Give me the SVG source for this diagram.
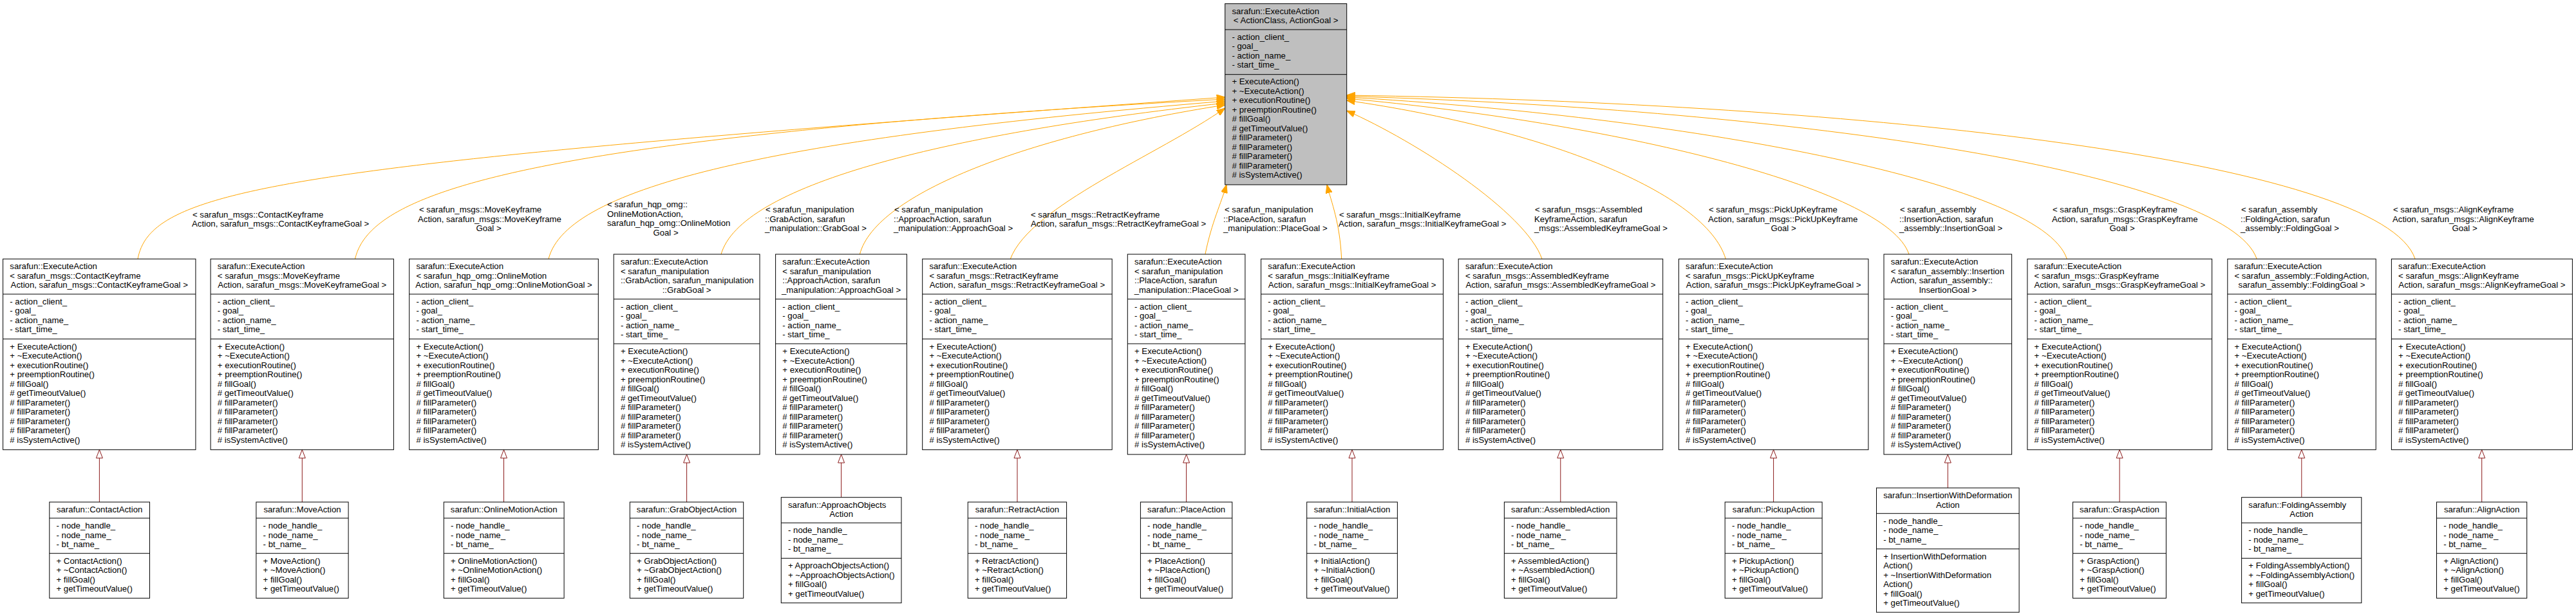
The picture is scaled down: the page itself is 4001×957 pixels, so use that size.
<svg xmlns="http://www.w3.org/2000/svg" width="4001" height="957" viewBox="0 0 4001 957">
<style>
text{font-family:"Liberation Sans",Arial,Helvetica,sans-serif;font-size:13.2px;fill:#000}
.m{text-anchor:middle}
.box{fill:#fff;stroke:#000;stroke-width:1}
.gray{fill:#bfbfbf}
.sep{stroke:#000;stroke-width:1}
.tpl{fill:none;stroke:#ffa500;stroke-width:1}
.inh{fill:none;stroke:#8b1a1a;stroke-width:1}
</style>
<defs>
<marker id="ao" viewBox="0 0 13 10" refX="13" refY="5" markerWidth="13" markerHeight="10" markerUnits="userSpaceOnUse" orient="auto"><path d="M0,0 L13,5 L0,10 z" fill="#ffa500" stroke="#ffa500" stroke-width="1"/></marker>
<marker id="ah" viewBox="-1 -1 15 12" refX="0" refY="5" markerWidth="15" markerHeight="12" markerUnits="userSpaceOnUse" orient="auto"><path d="M0,0 L13,5 L0,10 z" fill="#fff" stroke="#8b1a1a" stroke-width="1"/></marker>
</defs>
<rect width="4001" height="957" fill="#fff"/>

<g id="edges">
<path class="tpl" marker-end="url(#ao)" d="M214,402.3 C235,290 450,255 1902.7,151"/>
<path class="tpl" marker-end="url(#ao)" d="M551.5,402.3 C575,300 800,215 1902.7,154"/>
<path class="tpl" marker-end="url(#ao)" d="M852,402.3 C880,290 1200,215 1902.7,157"/>
<path class="tpl" marker-end="url(#ao)" d="M1120,395 C1150,290 1450,210 1902.7,160"/>
<path class="tpl" marker-end="url(#ao)" d="M1335.4,395 C1360,300 1600,210 1902.7,163"/>
<path class="tpl" marker-end="url(#ao)" d="M1569.3,402.3 C1600,320 1800,240 1902.7,168"/>
<path class="tpl" marker-end="url(#ao)" d="M1871.9,395 C1882,345 1897,315 1905,287"/>
<path class="tpl" marker-end="url(#ao)" d="M2083.7,402.3 C2081,345 2068,315 2061,287"/>
<path class="tpl" marker-end="url(#ao)" d="M2395,402.3 C2370,330 2200,220 2091.7,172"/>
<path class="tpl" marker-end="url(#ao)" d="M2680.3,402.3 C2650,300 2400,200 2091.7,156"/>
<path class="tpl" marker-end="url(#ao)" d="M2965,395 C2930,290 2500,190 2091.7,153"/>
<path class="tpl" marker-end="url(#ao)" d="M3210.3,402.3 C3170,280 2600,180 2091.7,151"/>
<path class="tpl" marker-end="url(#ao)" d="M3505.2,402.3 C3460,270 2800,170 2091.7,149.5"/>
<path class="tpl" marker-end="url(#ao)" d="M3751.1,402.3 C3700,250 2900,160 2091.7,148"/>

<text x="299" y="337.5">&lt; sarafun_msgs::ContactKeyframe</text>
<text x="298" y="352">Action, sarafun_msgs::ContactKeyframeGoal &gt;</text>
<text x="651" y="330">&lt; sarafun_msgs::MoveKeyframe</text>
<text x="649" y="344.5">Action, sarafun_msgs::MoveKeyframe</text>
<text x="759" y="359" class="m">Goal &gt;</text>
<text x="943" y="322">&lt; sarafun_hqp_omg::</text>
<text x="943" y="336.5">OnlineMotionAction,</text>
<text x="943" y="351">sarafun_hqp_omg::OnlineMotion</text>
<text x="1034" y="365.5" class="m">Goal &gt;</text>
<text x="1189" y="330">&lt; sarafun_manipulation</text>
<text x="1188" y="344.5">::GrabAction, sarafun</text>
<text x="1188" y="359">_manipulation::GrabGoal &gt;</text>
<text x="1389" y="330">&lt; sarafun_manipulation</text>
<text x="1388" y="344.5">::ApproachAction, sarafun</text>
<text x="1388" y="359">_manipulation::ApproachGoal &gt;</text>
<text x="1601" y="337.5">&lt; sarafun_msgs::RetractKeyframe</text>
<text x="1601" y="352">Action, sarafun_msgs::RetractKeyframeGoal &gt;</text>
<text x="1902" y="330">&lt; sarafun_manipulation</text>
<text x="1900" y="344.5">::PlaceAction, sarafun</text>
<text x="1900" y="359">_manipulation::PlaceGoal &gt;</text>
<text x="2080" y="337.5">&lt; sarafun_msgs::InitialKeyframe</text>
<text x="2079" y="352">Action, sarafun_msgs::InitialKeyframeGoal &gt;</text>
<text x="2384" y="330">&lt; sarafun_msgs::Assembled</text>
<text x="2383" y="344.5">KeyframeAction, sarafun</text>
<text x="2383" y="359">_msgs::AssembledKeyframeGoal &gt;</text>
<text x="2654" y="330">&lt; sarafun_msgs::PickUpKeyframe</text>
<text x="2653" y="344.5">Action, sarafun_msgs::PickUpKeyframe</text>
<text x="2770" y="359" class="m">Goal &gt;</text>
<text x="2951" y="330">&lt; sarafun_assembly</text>
<text x="2950" y="344.5">::InsertionAction, sarafun</text>
<text x="2950" y="359">_assembly::InsertionGoal &gt;</text>
<text x="3188" y="330">&lt; sarafun_msgs::GraspKeyframe</text>
<text x="3187" y="344.5">Action, sarafun_msgs::GraspKeyframe</text>
<text x="3296" y="359" class="m">Goal &gt;</text>
<text x="3481" y="330">&lt; sarafun_assembly</text>
<text x="3480" y="344.5">::FoldingAction, sarafun</text>
<text x="3480" y="359">_assembly::FoldingGoal &gt;</text>
<text x="3717" y="330">&lt; sarafun_msgs::AlignKeyframe</text>
<text x="3716" y="344.5">Action, sarafun_msgs::AlignKeyframe</text>
<text x="3828" y="359" class="m">Goal &gt;</text>

<path class="inh" marker-end="url(#ah)" d="M154.4,780 V711.7"/>
<path class="inh" marker-end="url(#ah)" d="M469.3,780 V711.7"/>
<path class="inh" marker-end="url(#ah)" d="M782.5,780 V711.7"/>
<path class="inh" marker-end="url(#ah)" d="M1066.6,780 V719"/>
<path class="inh" marker-end="url(#ah)" d="M1306.6,772.7 V719"/>
<path class="inh" marker-end="url(#ah)" d="M1580,780 V711.7"/>
<path class="inh" marker-end="url(#ah)" d="M1842.6,780 V719"/>
<path class="inh" marker-end="url(#ah)" d="M2100,780 V711.7"/>
<path class="inh" marker-end="url(#ah)" d="M2423.8,780 V711.7"/>
<path class="inh" marker-end="url(#ah)" d="M2754.6,780 V711.7"/>
<path class="inh" marker-end="url(#ah)" d="M3025.3,758 V719"/>
<path class="inh" marker-end="url(#ah)" d="M3292.1,780 V711.7"/>
<path class="inh" marker-end="url(#ah)" d="M3574.8,772.7 V711.7"/>
<path class="inh" marker-end="url(#ah)" d="M3854.7,780 V711.7"/>
</g>

<g id="ExecuteAction_base" transform="translate(1902.7,5.7)">
<rect class="box gray" width="189" height="281.3"/>
<line class="sep" x1="0" y1="40.3" x2="189" y2="40.3"/><line class="sep" x1="0" y1="110" x2="189" y2="110"/>
<text x="10.7" y="16">sarafun::ExecuteAction</text>
<text x="94.5" y="30.5" class="m">&lt; ActionClass, ActionGoal &gt;</text>
<text x="10.7" y="56.3">- action_client_</text><text x="10.7" y="70.8">- goal_</text><text x="10.7" y="85.3">- action_name_</text><text x="10.7" y="99.8">- start_time_</text>
<text x="10.7" y="125.8">+ ExecuteAction()</text><text x="10.7" y="140.3">+ ~ExecuteAction()</text><text x="10.7" y="154.8">+ executionRoutine()</text><text x="10.7" y="169.3">+ preemptionRoutine()</text><text x="10.7" y="183.8"># fillGoal()</text><text x="10.7" y="198.3"># getTimeoutValue()</text><text x="10.7" y="212.8"># fillParameter()</text><text x="10.7" y="227.3"># fillParameter()</text><text x="10.7" y="241.8"># fillParameter()</text><text x="10.7" y="256.3"># fillParameter()</text><text x="10.7" y="270.8"># isSystemActive()</text>
</g>

<g id="EA_ContactKeyframe" transform="translate(4.6,402.3)">
<rect class="box" width="299.3" height="296.4"/>
<line class="sep" x1="0" y1="54.7" x2="299.3" y2="54.7"/><line class="sep" x1="0" y1="124.4" x2="299.3" y2="124.4"/>
<text x="10.7" y="16">sarafun::ExecuteAction</text><text x="10.7" y="30.5">&lt; sarafun_msgs::ContactKeyframe</text><text x="149.65" y="45" class="m">Action, sarafun_msgs::ContactKeyframeGoal &gt;</text>
<text x="10.7" y="70.7">- action_client_</text><text x="10.7" y="85.2">- goal_</text><text x="10.7" y="99.7">- action_name_</text><text x="10.7" y="114.2">- start_time_</text>
<text x="10.7" y="140.4">+ ExecuteAction()</text><text x="10.7" y="154.9">+ ~ExecuteAction()</text><text x="10.7" y="169.4">+ executionRoutine()</text><text x="10.7" y="183.9">+ preemptionRoutine()</text><text x="10.7" y="198.4"># fillGoal()</text><text x="10.7" y="212.9"># getTimeoutValue()</text><text x="10.7" y="227.4"># fillParameter()</text><text x="10.7" y="241.9"># fillParameter()</text><text x="10.7" y="256.4"># fillParameter()</text><text x="10.7" y="270.9"># fillParameter()</text><text x="10.7" y="285.4"># isSystemActive()</text>
</g>

<g id="EA_MoveKeyframe" transform="translate(327.1,402.3)">
<rect class="box" width="284.3" height="296.4"/>
<line class="sep" x1="0" y1="54.7" x2="284.3" y2="54.7"/><line class="sep" x1="0" y1="124.4" x2="284.3" y2="124.4"/>
<text x="10.7" y="16">sarafun::ExecuteAction</text><text x="10.7" y="30.5">&lt; sarafun_msgs::MoveKeyframe</text><text x="142.15" y="45" class="m">Action, sarafun_msgs::MoveKeyframeGoal &gt;</text>
<text x="10.7" y="70.7">- action_client_</text><text x="10.7" y="85.2">- goal_</text><text x="10.7" y="99.7">- action_name_</text><text x="10.7" y="114.2">- start_time_</text>
<text x="10.7" y="140.4">+ ExecuteAction()</text><text x="10.7" y="154.9">+ ~ExecuteAction()</text><text x="10.7" y="169.4">+ executionRoutine()</text><text x="10.7" y="183.9">+ preemptionRoutine()</text><text x="10.7" y="198.4"># fillGoal()</text><text x="10.7" y="212.9"># getTimeoutValue()</text><text x="10.7" y="227.4"># fillParameter()</text><text x="10.7" y="241.9"># fillParameter()</text><text x="10.7" y="256.4"># fillParameter()</text><text x="10.7" y="270.9"># fillParameter()</text><text x="10.7" y="285.4"># isSystemActive()</text>
</g>

<g id="EA_OnlineMotion" transform="translate(635.7,402.3)">
<rect class="box" width="293.6" height="296.4"/>
<line class="sep" x1="0" y1="54.7" x2="293.6" y2="54.7"/><line class="sep" x1="0" y1="124.4" x2="293.6" y2="124.4"/>
<text x="10.7" y="16">sarafun::ExecuteAction</text><text x="10.7" y="30.5">&lt; sarafun_hqp_omg::OnlineMotion</text><text x="146.8" y="45" class="m">Action, sarafun_hqp_omg::OnlineMotionGoal &gt;</text>
<text x="10.7" y="70.7">- action_client_</text><text x="10.7" y="85.2">- goal_</text><text x="10.7" y="99.7">- action_name_</text><text x="10.7" y="114.2">- start_time_</text>
<text x="10.7" y="140.4">+ ExecuteAction()</text><text x="10.7" y="154.9">+ ~ExecuteAction()</text><text x="10.7" y="169.4">+ executionRoutine()</text><text x="10.7" y="183.9">+ preemptionRoutine()</text><text x="10.7" y="198.4"># fillGoal()</text><text x="10.7" y="212.9"># getTimeoutValue()</text><text x="10.7" y="227.4"># fillParameter()</text><text x="10.7" y="241.9"># fillParameter()</text><text x="10.7" y="256.4"># fillParameter()</text><text x="10.7" y="270.9"># fillParameter()</text><text x="10.7" y="285.4"># isSystemActive()</text>
</g>

<g id="EA_Grab" transform="translate(953.2,395)">
<rect class="box" width="226.8" height="311"/>
<line class="sep" x1="0" y1="69.7" x2="226.8" y2="69.7"/><line class="sep" x1="0" y1="139" x2="226.8" y2="139"/>
<text x="10.7" y="16">sarafun::ExecuteAction</text><text x="10.7" y="30.5">&lt; sarafun_manipulation</text><text x="10.7" y="45">::GrabAction, sarafun_manipulation</text><text x="113.4" y="59.5" class="m">::GrabGoal &gt;</text>
<text x="10.7" y="85.7">- action_client_</text><text x="10.7" y="100.2">- goal_</text><text x="10.7" y="114.7">- action_name_</text><text x="10.7" y="129.2">- start_time_</text>
<text x="10.7" y="155">+ ExecuteAction()</text><text x="10.7" y="169.5">+ ~ExecuteAction()</text><text x="10.7" y="184">+ executionRoutine()</text><text x="10.7" y="198.5">+ preemptionRoutine()</text><text x="10.7" y="213"># fillGoal()</text><text x="10.7" y="227.5"># getTimeoutValue()</text><text x="10.7" y="242"># fillParameter()</text><text x="10.7" y="256.5"># fillParameter()</text><text x="10.7" y="271"># fillParameter()</text><text x="10.7" y="285.5"># fillParameter()</text><text x="10.7" y="300"># isSystemActive()</text>
</g>

<g id="EA_Approach" transform="translate(1204.6,395)">
<rect class="box" width="203.9" height="311"/>
<line class="sep" x1="0" y1="69.7" x2="203.9" y2="69.7"/><line class="sep" x1="0" y1="139" x2="203.9" y2="139"/>
<text x="10.7" y="16">sarafun::ExecuteAction</text><text x="10.7" y="30.5">&lt; sarafun_manipulation</text><text x="10.7" y="45">::ApproachAction, sarafun</text><text x="101.95" y="59.5" class="m">_manipulation::ApproachGoal &gt;</text>
<text x="10.7" y="85.7">- action_client_</text><text x="10.7" y="100.2">- goal_</text><text x="10.7" y="114.7">- action_name_</text><text x="10.7" y="129.2">- start_time_</text>
<text x="10.7" y="155">+ ExecuteAction()</text><text x="10.7" y="169.5">+ ~ExecuteAction()</text><text x="10.7" y="184">+ executionRoutine()</text><text x="10.7" y="198.5">+ preemptionRoutine()</text><text x="10.7" y="213"># fillGoal()</text><text x="10.7" y="227.5"># getTimeoutValue()</text><text x="10.7" y="242"># fillParameter()</text><text x="10.7" y="256.5"># fillParameter()</text><text x="10.7" y="271"># fillParameter()</text><text x="10.7" y="285.5"># fillParameter()</text><text x="10.7" y="300"># isSystemActive()</text>
</g>

<g id="EA_RetractKeyframe" transform="translate(1432.7,402.3)">
<rect class="box" width="294.5" height="296.4"/>
<line class="sep" x1="0" y1="54.7" x2="294.5" y2="54.7"/><line class="sep" x1="0" y1="124.4" x2="294.5" y2="124.4"/>
<text x="10.7" y="16">sarafun::ExecuteAction</text><text x="10.7" y="30.5">&lt; sarafun_msgs::RetractKeyframe</text><text x="147.25" y="45" class="m">Action, sarafun_msgs::RetractKeyframeGoal &gt;</text>
<text x="10.7" y="70.7">- action_client_</text><text x="10.7" y="85.2">- goal_</text><text x="10.7" y="99.7">- action_name_</text><text x="10.7" y="114.2">- start_time_</text>
<text x="10.7" y="140.4">+ ExecuteAction()</text><text x="10.7" y="154.9">+ ~ExecuteAction()</text><text x="10.7" y="169.4">+ executionRoutine()</text><text x="10.7" y="183.9">+ preemptionRoutine()</text><text x="10.7" y="198.4"># fillGoal()</text><text x="10.7" y="212.9"># getTimeoutValue()</text><text x="10.7" y="227.4"># fillParameter()</text><text x="10.7" y="241.9"># fillParameter()</text><text x="10.7" y="256.4"># fillParameter()</text><text x="10.7" y="270.9"># fillParameter()</text><text x="10.7" y="285.4"># isSystemActive()</text>
</g>

<g id="EA_Place" transform="translate(1751.3,395)">
<rect class="box" width="182.6" height="311"/>
<line class="sep" x1="0" y1="69.7" x2="182.6" y2="69.7"/><line class="sep" x1="0" y1="139" x2="182.6" y2="139"/>
<text x="10.7" y="16">sarafun::ExecuteAction</text><text x="10.7" y="30.5">&lt; sarafun_manipulation</text><text x="10.7" y="45">::PlaceAction, sarafun</text><text x="91.3" y="59.5" class="m">_manipulation::PlaceGoal &gt;</text>
<text x="10.7" y="85.7">- action_client_</text><text x="10.7" y="100.2">- goal_</text><text x="10.7" y="114.7">- action_name_</text><text x="10.7" y="129.2">- start_time_</text>
<text x="10.7" y="155">+ ExecuteAction()</text><text x="10.7" y="169.5">+ ~ExecuteAction()</text><text x="10.7" y="184">+ executionRoutine()</text><text x="10.7" y="198.5">+ preemptionRoutine()</text><text x="10.7" y="213"># fillGoal()</text><text x="10.7" y="227.5"># getTimeoutValue()</text><text x="10.7" y="242"># fillParameter()</text><text x="10.7" y="256.5"># fillParameter()</text><text x="10.7" y="271"># fillParameter()</text><text x="10.7" y="285.5"># fillParameter()</text><text x="10.7" y="300"># isSystemActive()</text>
</g>

<g id="EA_InitialKeyframe" transform="translate(1958.6,402.3)">
<rect class="box" width="283" height="296.4"/>
<line class="sep" x1="0" y1="54.7" x2="283" y2="54.7"/><line class="sep" x1="0" y1="124.4" x2="283" y2="124.4"/>
<text x="10.7" y="16">sarafun::ExecuteAction</text><text x="10.7" y="30.5">&lt; sarafun_msgs::InitialKeyframe</text><text x="141.5" y="45" class="m">Action, sarafun_msgs::InitialKeyframeGoal &gt;</text>
<text x="10.7" y="70.7">- action_client_</text><text x="10.7" y="85.2">- goal_</text><text x="10.7" y="99.7">- action_name_</text><text x="10.7" y="114.2">- start_time_</text>
<text x="10.7" y="140.4">+ ExecuteAction()</text><text x="10.7" y="154.9">+ ~ExecuteAction()</text><text x="10.7" y="169.4">+ executionRoutine()</text><text x="10.7" y="183.9">+ preemptionRoutine()</text><text x="10.7" y="198.4"># fillGoal()</text><text x="10.7" y="212.9"># getTimeoutValue()</text><text x="10.7" y="227.4"># fillParameter()</text><text x="10.7" y="241.9"># fillParameter()</text><text x="10.7" y="256.4"># fillParameter()</text><text x="10.7" y="270.9"># fillParameter()</text><text x="10.7" y="285.4"># isSystemActive()</text>
</g>

<g id="EA_AssembledKeyframe" transform="translate(2265.2,402.3)">
<rect class="box" width="317.5" height="296.4"/>
<line class="sep" x1="0" y1="54.7" x2="317.5" y2="54.7"/><line class="sep" x1="0" y1="124.4" x2="317.5" y2="124.4"/>
<text x="10.7" y="16">sarafun::ExecuteAction</text><text x="10.7" y="30.5">&lt; sarafun_msgs::AssembledKeyframe</text><text x="158.75" y="45" class="m">Action, sarafun_msgs::AssembledKeyframeGoal &gt;</text>
<text x="10.7" y="70.7">- action_client_</text><text x="10.7" y="85.2">- goal_</text><text x="10.7" y="99.7">- action_name_</text><text x="10.7" y="114.2">- start_time_</text>
<text x="10.7" y="140.4">+ ExecuteAction()</text><text x="10.7" y="154.9">+ ~ExecuteAction()</text><text x="10.7" y="169.4">+ executionRoutine()</text><text x="10.7" y="183.9">+ preemptionRoutine()</text><text x="10.7" y="198.4"># fillGoal()</text><text x="10.7" y="212.9"># getTimeoutValue()</text><text x="10.7" y="227.4"># fillParameter()</text><text x="10.7" y="241.9"># fillParameter()</text><text x="10.7" y="256.4"># fillParameter()</text><text x="10.7" y="270.9"># fillParameter()</text><text x="10.7" y="285.4"># isSystemActive()</text>
</g>

<g id="EA_PickUpKeyframe" transform="translate(2607.4,402.3)">
<rect class="box" width="294.5" height="296.4"/>
<line class="sep" x1="0" y1="54.7" x2="294.5" y2="54.7"/><line class="sep" x1="0" y1="124.4" x2="294.5" y2="124.4"/>
<text x="10.7" y="16">sarafun::ExecuteAction</text><text x="10.7" y="30.5">&lt; sarafun_msgs::PickUpKeyframe</text><text x="147.25" y="45" class="m">Action, sarafun_msgs::PickUpKeyframeGoal &gt;</text>
<text x="10.7" y="70.7">- action_client_</text><text x="10.7" y="85.2">- goal_</text><text x="10.7" y="99.7">- action_name_</text><text x="10.7" y="114.2">- start_time_</text>
<text x="10.7" y="140.4">+ ExecuteAction()</text><text x="10.7" y="154.9">+ ~ExecuteAction()</text><text x="10.7" y="169.4">+ executionRoutine()</text><text x="10.7" y="183.9">+ preemptionRoutine()</text><text x="10.7" y="198.4"># fillGoal()</text><text x="10.7" y="212.9"># getTimeoutValue()</text><text x="10.7" y="227.4"># fillParameter()</text><text x="10.7" y="241.9"># fillParameter()</text><text x="10.7" y="256.4"># fillParameter()</text><text x="10.7" y="270.9"># fillParameter()</text><text x="10.7" y="285.4"># isSystemActive()</text>
</g>

<g id="EA_Insertion" transform="translate(2926,395)">
<rect class="box" width="198.6" height="311"/>
<line class="sep" x1="0" y1="69.7" x2="198.6" y2="69.7"/><line class="sep" x1="0" y1="139" x2="198.6" y2="139"/>
<text x="10.7" y="16">sarafun::ExecuteAction</text><text x="10.7" y="30.5">&lt; sarafun_assembly::Insertion</text><text x="10.7" y="45">Action, sarafun_assembly::</text><text x="99.3" y="59.5" class="m">InsertionGoal &gt;</text>
<text x="10.7" y="85.7">- action_client_</text><text x="10.7" y="100.2">- goal_</text><text x="10.7" y="114.7">- action_name_</text><text x="10.7" y="129.2">- start_time_</text>
<text x="10.7" y="155">+ ExecuteAction()</text><text x="10.7" y="169.5">+ ~ExecuteAction()</text><text x="10.7" y="184">+ executionRoutine()</text><text x="10.7" y="198.5">+ preemptionRoutine()</text><text x="10.7" y="213"># fillGoal()</text><text x="10.7" y="227.5"># getTimeoutValue()</text><text x="10.7" y="242"># fillParameter()</text><text x="10.7" y="256.5"># fillParameter()</text><text x="10.7" y="271"># fillParameter()</text><text x="10.7" y="285.5"># fillParameter()</text><text x="10.7" y="300"># isSystemActive()</text>
</g>

<g id="EA_GraspKeyframe" transform="translate(3148.9,402.3)">
<rect class="box" width="286.7" height="296.4"/>
<line class="sep" x1="0" y1="54.7" x2="286.7" y2="54.7"/><line class="sep" x1="0" y1="124.4" x2="286.7" y2="124.4"/>
<text x="10.7" y="16">sarafun::ExecuteAction</text><text x="10.7" y="30.5">&lt; sarafun_msgs::GraspKeyframe</text><text x="143.35" y="45" class="m">Action, sarafun_msgs::GraspKeyframeGoal &gt;</text>
<text x="10.7" y="70.7">- action_client_</text><text x="10.7" y="85.2">- goal_</text><text x="10.7" y="99.7">- action_name_</text><text x="10.7" y="114.2">- start_time_</text>
<text x="10.7" y="140.4">+ ExecuteAction()</text><text x="10.7" y="154.9">+ ~ExecuteAction()</text><text x="10.7" y="169.4">+ executionRoutine()</text><text x="10.7" y="183.9">+ preemptionRoutine()</text><text x="10.7" y="198.4"># fillGoal()</text><text x="10.7" y="212.9"># getTimeoutValue()</text><text x="10.7" y="227.4"># fillParameter()</text><text x="10.7" y="241.9"># fillParameter()</text><text x="10.7" y="256.4"># fillParameter()</text><text x="10.7" y="270.9"># fillParameter()</text><text x="10.7" y="285.4"># isSystemActive()</text>
</g>

<g id="EA_Folding" transform="translate(3459.8,402.3)">
<rect class="box" width="230.4" height="296.4"/>
<line class="sep" x1="0" y1="54.7" x2="230.4" y2="54.7"/><line class="sep" x1="0" y1="124.4" x2="230.4" y2="124.4"/>
<text x="10.7" y="16">sarafun::ExecuteAction</text><text x="10.7" y="30.5">&lt; sarafun_assembly::FoldingAction,</text><text x="115.2" y="45" class="m">sarafun_assembly::FoldingGoal &gt;</text>
<text x="10.7" y="70.7">- action_client_</text><text x="10.7" y="85.2">- goal_</text><text x="10.7" y="99.7">- action_name_</text><text x="10.7" y="114.2">- start_time_</text>
<text x="10.7" y="140.4">+ ExecuteAction()</text><text x="10.7" y="154.9">+ ~ExecuteAction()</text><text x="10.7" y="169.4">+ executionRoutine()</text><text x="10.7" y="183.9">+ preemptionRoutine()</text><text x="10.7" y="198.4"># fillGoal()</text><text x="10.7" y="212.9"># getTimeoutValue()</text><text x="10.7" y="227.4"># fillParameter()</text><text x="10.7" y="241.9"># fillParameter()</text><text x="10.7" y="256.4"># fillParameter()</text><text x="10.7" y="270.9"># fillParameter()</text><text x="10.7" y="285.4"># isSystemActive()</text>
</g>

<g id="EA_AlignKeyframe" transform="translate(3714.4,402.3)">
<rect class="box" width="281" height="296.4"/>
<line class="sep" x1="0" y1="54.7" x2="281" y2="54.7"/><line class="sep" x1="0" y1="124.4" x2="281" y2="124.4"/>
<text x="10.7" y="16">sarafun::ExecuteAction</text><text x="10.7" y="30.5">&lt; sarafun_msgs::AlignKeyframe</text><text x="140.5" y="45" class="m">Action, sarafun_msgs::AlignKeyframeGoal &gt;</text>
<text x="10.7" y="70.7">- action_client_</text><text x="10.7" y="85.2">- goal_</text><text x="10.7" y="99.7">- action_name_</text><text x="10.7" y="114.2">- start_time_</text>
<text x="10.7" y="140.4">+ ExecuteAction()</text><text x="10.7" y="154.9">+ ~ExecuteAction()</text><text x="10.7" y="169.4">+ executionRoutine()</text><text x="10.7" y="183.9">+ preemptionRoutine()</text><text x="10.7" y="198.4"># fillGoal()</text><text x="10.7" y="212.9"># getTimeoutValue()</text><text x="10.7" y="227.4"># fillParameter()</text><text x="10.7" y="241.9"># fillParameter()</text><text x="10.7" y="256.4"># fillParameter()</text><text x="10.7" y="270.9"># fillParameter()</text><text x="10.7" y="285.4"># isSystemActive()</text>
</g>

<g id="ContactAction" transform="translate(76.8,780)">
<rect class="box" width="155.7" height="149.3"/>
<line class="sep" x1="0" y1="25" x2="155.7" y2="25"/><line class="sep" x1="0" y1="79.7" x2="155.7" y2="79.7"/>
<text x="77.85" y="16" class="m">sarafun::ContactAction</text>
<text x="10.7" y="41">- node_handle_</text><text x="10.7" y="55.5">- node_name_</text><text x="10.7" y="70">- bt_name_</text>
<text x="10.7" y="95.7">+ ContactAction()</text><text x="10.7" y="110.2">+ ~ContactAction()</text><text x="10.7" y="124.7">+ fillGoal()</text><text x="10.7" y="139.2">+ getTimeoutValue()</text>
</g>

<g id="MoveAction" transform="translate(397.9,780)">
<rect class="box" width="143.2" height="149.3"/>
<line class="sep" x1="0" y1="25" x2="143.2" y2="25"/><line class="sep" x1="0" y1="79.7" x2="143.2" y2="79.7"/>
<text x="71.6" y="16" class="m">sarafun::MoveAction</text>
<text x="10.7" y="41">- node_handle_</text><text x="10.7" y="55.5">- node_name_</text><text x="10.7" y="70">- bt_name_</text>
<text x="10.7" y="95.7">+ MoveAction()</text><text x="10.7" y="110.2">+ ~MoveAction()</text><text x="10.7" y="124.7">+ fillGoal()</text><text x="10.7" y="139.2">+ getTimeoutValue()</text>
</g>

<g id="OnlineMotionAction" transform="translate(689.3,780)">
<rect class="box" width="186.8" height="149.3"/>
<line class="sep" x1="0" y1="25" x2="186.8" y2="25"/><line class="sep" x1="0" y1="79.7" x2="186.8" y2="79.7"/>
<text x="93.4" y="16" class="m">sarafun::OnlineMotionAction</text>
<text x="10.7" y="41">- node_handle_</text><text x="10.7" y="55.5">- node_name_</text><text x="10.7" y="70">- bt_name_</text>
<text x="10.7" y="95.7">+ OnlineMotionAction()</text><text x="10.7" y="110.2">+ ~OnlineMotionAction()</text><text x="10.7" y="124.7">+ fillGoal()</text><text x="10.7" y="139.2">+ getTimeoutValue()</text>
</g>

<g id="GrabObjectAction" transform="translate(978.3,780)">
<rect class="box" width="176.4" height="149.3"/>
<line class="sep" x1="0" y1="25" x2="176.4" y2="25"/><line class="sep" x1="0" y1="79.7" x2="176.4" y2="79.7"/>
<text x="88.2" y="16" class="m">sarafun::GrabObjectAction</text>
<text x="10.7" y="41">- node_handle_</text><text x="10.7" y="55.5">- node_name_</text><text x="10.7" y="70">- bt_name_</text>
<text x="10.7" y="95.7">+ GrabObjectAction()</text><text x="10.7" y="110.2">+ ~GrabObjectAction()</text><text x="10.7" y="124.7">+ fillGoal()</text><text x="10.7" y="139.2">+ getTimeoutValue()</text>
</g>

<g id="ApproachObjectsAction" transform="translate(1213.3,772.7)">
<rect class="box" width="186.7" height="164"/>
<line class="sep" x1="0" y1="39.6" x2="186.7" y2="39.6"/><line class="sep" x1="0" y1="94.6" x2="186.7" y2="94.6"/>
<text x="10.7" y="16">sarafun::ApproachObjects</text><text x="93.35" y="30.5" class="m">Action</text>
<text x="10.7" y="55.6">- node_handle_</text><text x="10.7" y="70.1">- node_name_</text><text x="10.7" y="84.6">- bt_name_</text>
<text x="10.7" y="110.6">+ ApproachObjectsAction()</text><text x="10.7" y="125.1">+ ~ApproachObjectsAction()</text><text x="10.7" y="139.6">+ fillGoal()</text><text x="10.7" y="154.1">+ getTimeoutValue()</text>
</g>

<g id="RetractAction" transform="translate(1503.3,780)">
<rect class="box" width="153.3" height="149.3"/>
<line class="sep" x1="0" y1="25" x2="153.3" y2="25"/><line class="sep" x1="0" y1="79.7" x2="153.3" y2="79.7"/>
<text x="76.65" y="16" class="m">sarafun::RetractAction</text>
<text x="10.7" y="41">- node_handle_</text><text x="10.7" y="55.5">- node_name_</text><text x="10.7" y="70">- bt_name_</text>
<text x="10.7" y="95.7">+ RetractAction()</text><text x="10.7" y="110.2">+ ~RetractAction()</text><text x="10.7" y="124.7">+ fillGoal()</text><text x="10.7" y="139.2">+ getTimeoutValue()</text>
</g>

<g id="PlaceAction" transform="translate(1771.4,780)">
<rect class="box" width="142.4" height="149.3"/>
<line class="sep" x1="0" y1="25" x2="142.4" y2="25"/><line class="sep" x1="0" y1="79.7" x2="142.4" y2="79.7"/>
<text x="71.2" y="16" class="m">sarafun::PlaceAction</text>
<text x="10.7" y="41">- node_handle_</text><text x="10.7" y="55.5">- node_name_</text><text x="10.7" y="70">- bt_name_</text>
<text x="10.7" y="95.7">+ PlaceAction()</text><text x="10.7" y="110.2">+ ~PlaceAction()</text><text x="10.7" y="124.7">+ fillGoal()</text><text x="10.7" y="139.2">+ getTimeoutValue()</text>
</g>

<g id="InitialAction" transform="translate(2029.7,780)">
<rect class="box" width="140.7" height="149.3"/>
<line class="sep" x1="0" y1="25" x2="140.7" y2="25"/><line class="sep" x1="0" y1="79.7" x2="140.7" y2="79.7"/>
<text x="70.35" y="16" class="m">sarafun::InitialAction</text>
<text x="10.7" y="41">- node_handle_</text><text x="10.7" y="55.5">- node_name_</text><text x="10.7" y="70">- bt_name_</text>
<text x="10.7" y="95.7">+ InitialAction()</text><text x="10.7" y="110.2">+ ~InitialAction()</text><text x="10.7" y="124.7">+ fillGoal()</text><text x="10.7" y="139.2">+ getTimeoutValue()</text>
</g>

<g id="AssembledAction" transform="translate(2336.4,780)">
<rect class="box" width="174.6" height="149.3"/>
<line class="sep" x1="0" y1="25" x2="174.6" y2="25"/><line class="sep" x1="0" y1="79.7" x2="174.6" y2="79.7"/>
<text x="87.3" y="16" class="m">sarafun::AssembledAction</text>
<text x="10.7" y="41">- node_handle_</text><text x="10.7" y="55.5">- node_name_</text><text x="10.7" y="70">- bt_name_</text>
<text x="10.7" y="95.7">+ AssembledAction()</text><text x="10.7" y="110.2">+ ~AssembledAction()</text><text x="10.7" y="124.7">+ fillGoal()</text><text x="10.7" y="139.2">+ getTimeoutValue()</text>
</g>

<g id="PickupAction" transform="translate(2679.2,780)">
<rect class="box" width="150.9" height="149.3"/>
<line class="sep" x1="0" y1="25" x2="150.9" y2="25"/><line class="sep" x1="0" y1="79.7" x2="150.9" y2="79.7"/>
<text x="75.45" y="16" class="m">sarafun::PickupAction</text>
<text x="10.7" y="41">- node_handle_</text><text x="10.7" y="55.5">- node_name_</text><text x="10.7" y="70">- bt_name_</text>
<text x="10.7" y="95.7">+ PickupAction()</text><text x="10.7" y="110.2">+ ~PickupAction()</text><text x="10.7" y="124.7">+ fillGoal()</text><text x="10.7" y="139.2">+ getTimeoutValue()</text>
</g>

<g id="InsertionWithDeformationAction" transform="translate(2914.5,758)">
<rect class="box" width="221.6" height="193.2"/>
<line class="sep" x1="0" y1="39.7" x2="221.6" y2="39.7"/><line class="sep" x1="0" y1="94.8" x2="221.6" y2="94.8"/>
<text x="10.7" y="16">sarafun::InsertionWithDeformation</text><text x="110.8" y="30.5" class="m">Action</text>
<text x="10.7" y="55.7">- node_handle_</text><text x="10.7" y="70.2">- node_name_</text><text x="10.7" y="84.7">- bt_name_</text>
<text x="10.7" y="110.8">+ InsertionWithDeformation</text><text x="10.7" y="125.3">Action()</text><text x="10.7" y="139.8">+ ~InsertionWithDeformation</text><text x="10.7" y="154.3">Action()</text><text x="10.7" y="168.8">+ fillGoal()</text><text x="10.7" y="183.3">+ getTimeoutValue()</text>
</g>

<g id="GraspAction" transform="translate(3219.5,780)">
<rect class="box" width="144.9" height="149.3"/>
<line class="sep" x1="0" y1="25" x2="144.9" y2="25"/><line class="sep" x1="0" y1="79.7" x2="144.9" y2="79.7"/>
<text x="72.45" y="16" class="m">sarafun::GraspAction</text>
<text x="10.7" y="41">- node_handle_</text><text x="10.7" y="55.5">- node_name_</text><text x="10.7" y="70">- bt_name_</text>
<text x="10.7" y="95.7">+ GraspAction()</text><text x="10.7" y="110.2">+ ~GraspAction()</text><text x="10.7" y="124.7">+ fillGoal()</text><text x="10.7" y="139.2">+ getTimeoutValue()</text>
</g>

<g id="FoldingAssemblyAction" transform="translate(3481.6,772.7)">
<rect class="box" width="186.2" height="164"/>
<line class="sep" x1="0" y1="39.6" x2="186.2" y2="39.6"/><line class="sep" x1="0" y1="94.6" x2="186.2" y2="94.6"/>
<text x="10.7" y="16">sarafun::FoldingAssembly</text><text x="93.1" y="30.5" class="m">Action</text>
<text x="10.7" y="55.6">- node_handle_</text><text x="10.7" y="70.1">- node_name_</text><text x="10.7" y="84.6">- bt_name_</text>
<text x="10.7" y="110.6">+ FoldingAssemblyAction()</text><text x="10.7" y="125.1">+ ~FoldingAssemblyAction()</text><text x="10.7" y="139.6">+ fillGoal()</text><text x="10.7" y="154.1">+ getTimeoutValue()</text>
</g>

<g id="AlignAction" transform="translate(3784.5,780)">
<rect class="box" width="140.2" height="149.3"/>
<line class="sep" x1="0" y1="25" x2="140.2" y2="25"/><line class="sep" x1="0" y1="79.7" x2="140.2" y2="79.7"/>
<text x="70.1" y="16" class="m">sarafun::AlignAction</text>
<text x="10.7" y="41">- node_handle_</text><text x="10.7" y="55.5">- node_name_</text><text x="10.7" y="70">- bt_name_</text>
<text x="10.7" y="95.7">+ AlignAction()</text><text x="10.7" y="110.2">+ ~AlignAction()</text><text x="10.7" y="124.7">+ fillGoal()</text><text x="10.7" y="139.2">+ getTimeoutValue()</text>
</g>
</svg>
